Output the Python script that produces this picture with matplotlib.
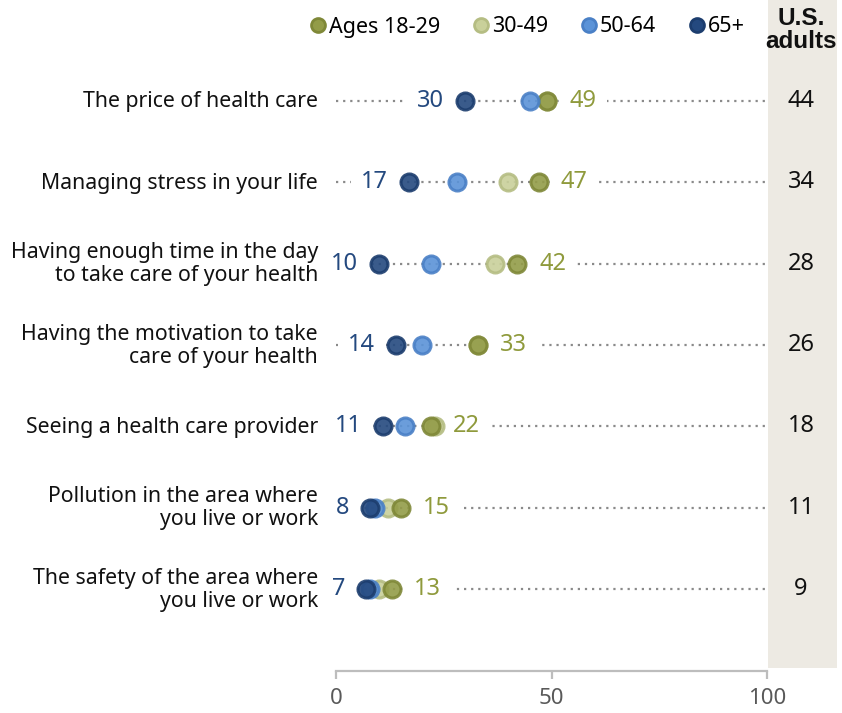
import numpy as np
import matplotlib.pyplot as plt
from matplotlib.lines import Line2D
from matplotlib.patches import Rectangle

plt.rcParams['font.family'] = ['Noto Sans', 'DejaVu Sans']

# Share naming each item as a health challenge, by age group
items = [
    "The price of health care",
    "Managing stress in your life",
    "Having enough time in the day\nto take care of your health",
    "Having the motivation to take\ncare of your health",
    "Seeing a health care provider",
    "Pollution in the area where\nyou live or work",
    "The safety of the area where\nyou live or work",
]
ages_18_29 = [49, 47, 42, 33, 22, 15, 13]
ages_30_49 = [49, 40, 37, 33, 23, 12, 10]
ages_50_64 = [45, 28, 22, 20, 16, 9, 8]
ages_65_up = [30, 17, 10, 14, 11, 8, 7]
us_adults = [44, 34, 28, 26, 18, 11, 9]

groups = ["Ages 18-29", "30-49", "50-64", "65+"]
face = ["#939c48", "#c9d09a", "#5b93d8", "#24497f"]
edge = ["#7f8838", "#b5bd83", "#4a80c6", "#1c3d6e"]

W, H = 842, 713
fig = plt.figure(figsize=(W / 100, H / 100), dpi=100)

# Shaded column holding the all-adults figures
fig.patches.append(Rectangle((768 / W, 1 - 668 / H), 69 / W, 668 / H,
                             transform=fig.transFigure, facecolor="#edeae3",
                             edgecolor="none", zorder=0))

ax = fig.add_axes([336 / W, 42 / H, 431 / W, 611 / H])
ax.set_facecolor("none")
n = len(items)
y = np.arange(n)

for i in range(n):
    ax.plot([0, 100], [i, i], color="#8a8a8a", linestyle=(0, (1, 2.2)),
            linewidth=1.6, zorder=1)

# draw 30-49 first, then 18-29, 50-64 and 65+ on top
series = [ages_30_49, ages_18_29, ages_50_64, ages_65_up]
order = [1, 0, 2, 3]
for z, (vals, k) in enumerate(zip(series, order)):
    ax.scatter(vals, y, s=150, facecolor=face[k], edgecolor=edge[k],
               linewidth=2.2, alpha=0.9, zorder=3 + z)

for i in range(n):
    ax.annotate(str(ages_65_up[i]), (ages_65_up[i], i), xytext=(-21, 0),
                textcoords="offset pixels", ha="right", va="center",
                fontsize=17, color="#24497f", zorder=2,
                bbox=dict(boxstyle="square,pad=0.45", fc="white", ec="none"))
    ax.annotate(str(ages_18_29[i]), (ages_18_29[i], i), xytext=(22, 0),
                textcoords="offset pixels", ha="left", va="center",
                fontsize=17, color="#8f9a3c", zorder=2,
                bbox=dict(boxstyle="square,pad=0.45", fc="white", ec="none"))
    ax.text(-4.2, i + 0.01, items[i], ha="right", va="center",
            fontsize=15.3, color="#111111", linespacing=1.12)
    fig.text(801 / W, 1 - (101 + 81.33 * i) / H, str(us_adults[i]),
             ha="center", va="center", fontsize=17, color="#111111")

fig.text(801 / W, 1 - 30 / H, "U.S.\nadults", ha="center", va="center",
         fontsize=17.5, fontweight="bold", color="#111111", linespacing=1.0,
         family=["Liberation Sans Narrow", "Liberation Sans", "DejaVu Sans"])

ax.set_xlim(0, 100)
ax.set_ylim(n - 1 + 1.01, -0.504)
ax.set_xticks([0, 50, 100])
ax.set_yticks([])
for side in ["top", "right", "left"]:
    ax.spines[side].set_visible(False)
ax.spines["bottom"].set_color("#bdbdbd")
ax.spines["bottom"].set_linewidth(1.6)
ax.tick_params(axis="x", colors="#bdbdbd", length=6, width=1.6,
               labelcolor="#595959", labelsize=16, pad=6)

handles = [Line2D([], [], linestyle="none", marker="o", markersize=10,
                  markerfacecolor=face[k], markeredgecolor=edge[k],
                  markeredgewidth=2) for k in range(4)]
fig.legend(handles, groups, loc="center", bbox_to_anchor=(525 / W, 1 - 27 / H),
           ncol=4, frameon=False, fontsize=15.5, handletextpad=-0.1,
           columnspacing=1.3, handlelength=1.2)

fig.savefig("out.png", dpi=100)
